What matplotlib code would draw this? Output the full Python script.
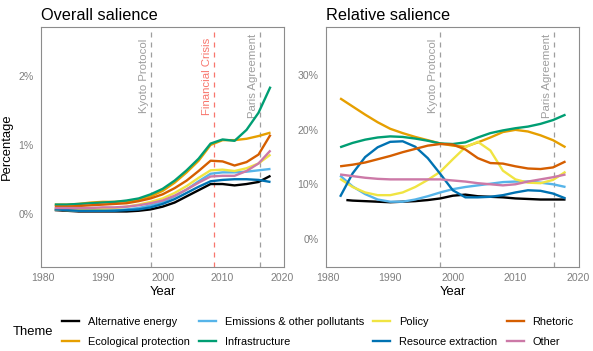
import numpy as np
import matplotlib
matplotlib.use("Agg")
import matplotlib.pyplot as plt
from matplotlib.lines import Line2D
from matplotlib.ticker import FixedLocator, FuncFormatter

plt.rcParams["font.family"] = ["Liberation Sans", "DejaVu Sans"]

# ---- data -------------------------------------------------------------
themes = [
    "Alternative energy",
    "Ecological protection",
    "Emissions & other pollutants",
    "Infrastructure",
    "Policy",
    "Resource extraction",
    "Rhetoric",
    "Other",
]
colors = ["#000000", "#E69F00", "#56B4E9", "#009E73",
          "#F0E442", "#0072B2", "#D55E00", "#CC79A7"]

years = list(range(1982, 2019, 2))
years_alt_rel = [1983] + years[1:]

# overall salience, in percent
overall = {
    "Alternative energy":           [.05, .04, .03, .03, .03, .03, .03, .04, .06, .10, .16, .25, .34, .43, .43, .41, .43, .46, .55],
    "Ecological protection":        [.13, .13, .14, .16, .17, .17, .18, .20, .25, .33, .45, .60, .77, 1.00, 1.07, 1.07, 1.09, 1.13, 1.18],
    "Emissions & other pollutants": [.06, .05, .04, .04, .04, .05, .06, .08, .12, .17, .25, .35, .47, .58, .60, .60, .61, .63, .65],
    "Infrastructure":               [.13, .13, .14, .15, .16, .17, .19, .22, .28, .36, .48, .63, .80, 1.02, 1.08, 1.06, 1.22, 1.47, 1.85],
    "Policy":                       [.06, .05, .05, .06, .07, .08, .10, .13, .17, .22, .30, .40, .52, .63, .64, .62, .66, .73, .86],
    "Resource extraction":          [.06, .05, .04, .04, .04, .04, .05, .06, .09, .14, .21, .30, .39, .47, .49, .50, .50, .49, .46],
    "Rhetoric":                     [.10, .10, .11, .12, .13, .14, .15, .18, .22, .28, .37, .48, .62, .77, .76, .70, .75, .86, 1.15],
    "Other":                        [.08, .08, .08, .08, .09, .09, .10, .12, .15, .19, .26, .35, .45, .54, .55, .55, .62, .73, .92],
}

# relative salience, in percent
relative = {
    "Alternative energy":           [7.1, 7.0, 6.9, 6.8, 6.7, 6.8, 6.9, 7.1, 7.4, 7.9, 8.1, 7.8, 7.7, 7.6, 7.4, 7.3, 7.2, 7.2, 7.2],
    "Ecological protection":        [25.8, 24.3, 22.8, 21.4, 20.2, 19.4, 18.7, 18.1, 17.5, 17.1, 16.9, 17.7, 18.6, 19.6, 20.0, 19.7, 19.0, 18.1, 16.8],
    "Emissions & other pollutants": [11.6, 9.6, 8.2, 7.2, 6.8, 6.8, 7.2, 7.8, 8.5, 9.1, 9.5, 9.8, 10.1, 10.4, 10.5, 10.5, 10.3, 10.0, 9.5],
    "Infrastructure":               [16.8, 17.6, 18.2, 18.6, 18.8, 18.7, 18.4, 18.0, 17.5, 17.4, 17.7, 18.6, 19.4, 19.9, 20.3, 20.6, 21.1, 21.8, 22.8],
    "Policy":                       [11.0, 9.5, 8.5, 8.0, 8.0, 8.5, 9.5, 10.8, 12.3, 14.6, 16.8, 17.8, 16.2, 12.5, 10.9, 10.3, 10.2, 10.8, 12.3],
    "Resource extraction":          [7.7, 12.0, 15.0, 16.8, 17.8, 17.9, 16.9, 14.8, 11.9, 8.9, 7.6, 7.6, 7.7, 8.0, 8.5, 8.9, 8.8, 8.3, 7.4],
    "Rhetoric":                     [13.3, 13.6, 14.0, 14.6, 15.2, 15.9, 16.5, 17.1, 17.4, 17.3, 16.4, 14.8, 13.9, 13.8, 13.3, 12.9, 12.8, 13.1, 14.2],
    "Other":                        [11.8, 11.5, 11.2, 11.0, 10.9, 10.9, 10.9, 10.9, 10.9, 10.7, 10.5, 10.2, 10.0, 9.8, 10.0, 10.5, 10.9, 11.3, 11.8],
}

events_overall = [("Kyoto Protocol", 1998.0, "grey"), ("Financial Crisis", 2008.6, "red"),
                  ("Paris Agreement", 2016.2, "grey")]
events_relative = [("Kyoto Protocol", 1997.9, "grey"), ("Paris Agreement", 2016.2, "grey")]

# ---- style ------------------------------------------------------------
W, H = 593, 351
fig = plt.figure(figsize=(W / 100, H / 100), dpi=100, facecolor="white")

tick_grey = "#7F7F7F"
border_grey = "#8C8C8C"
event_cols = {"grey": "#9E9E9E", "red": "#F8766D"}


def px_axes(x0, y0, x1, y1):
    return fig.add_axes([x0 / W, 1 - y1 / H, (x1 - x0) / W, (y1 - y0) / H])


def style_axes(ax, xlim, ylim, yticks, title):
    ax.set_xlim(*xlim)
    ax.set_ylim(*ylim)
    ax.xaxis.set_major_locator(FixedLocator([1980, 1990, 2000, 2010, 2020]))
    ax.yaxis.set_major_locator(FixedLocator(yticks))
    ax.yaxis.set_major_formatter(FuncFormatter(lambda v, p: f"{v:.0f}%"))
    ax.tick_params(length=0, labelsize=7.6, labelcolor=tick_grey)
    ax.tick_params(axis="x", pad=4.5)
    ax.tick_params(axis="y", pad=5.5)
    for s in ax.spines.values():
        s.set_color(border_grey)
        s.set_linewidth(0.8)
    ax.set_xlabel("Year", fontsize=9.4, labelpad=2)
    ax.set_title(title, loc="left", fontsize=11.7, pad=5)


def draw_events(ax, events, ymid):
    for label, yr, kind in events:
        c = event_cols[kind]
        ax.axvline(yr, color=c, lw=0.9, ls=(0, (4, 4)), zorder=1)
        ax.annotate(label, xy=(yr, ymid), xytext=(-1.5, 0), textcoords="offset points",
                    rotation=90, ha="right", va="center", fontsize=8.2, color=c, zorder=1)


ax1 = px_axes(41, 27, 284, 267)
ax2 = px_axes(326, 27, 579, 267)

for t, c in zip(themes, colors):
    ax1.plot(years, overall[t], color=c, lw=1.7, solid_capstyle="butt", zorder=3)
    yrs = years_alt_rel if t == "Alternative energy" else years
    ax2.plot(yrs, relative[t], color=c, lw=1.7, solid_capstyle="butt", zorder=3)

draw_events(ax1, events_overall, 2.0)
draw_events(ax2, events_relative, 30.0)

style_axes(ax1, (1979.7, 2020.25), (-0.78, 2.72), [0, 1, 2], "Overall salience")
style_axes(ax2, (1979.75, 2020.15), (-5.2, 38.9), [0, 10, 20, 30], "Relative salience")
ax1.set_ylabel("Percentage", fontsize=9.4, labelpad=4)

# ---- legend -----------------------------------------------------------
handles = [Line2D([], [], color=c, lw=1.7) for c in colors]
fig.text(13 / W, 1 - 332 / H, "Theme", fontsize=9.4, ha="left", va="center")
fig.legend(handles, themes, loc="center left", bbox_to_anchor=(62 / W, 1 - 332 / H),
           ncol=4, frameon=False, fontsize=7.9, borderpad=0, borderaxespad=0,
           handlelength=1.55, handletextpad=0.8, columnspacing=0.85, labelspacing=0.9)

fig.savefig("out.png", dpi=100, facecolor="white")
